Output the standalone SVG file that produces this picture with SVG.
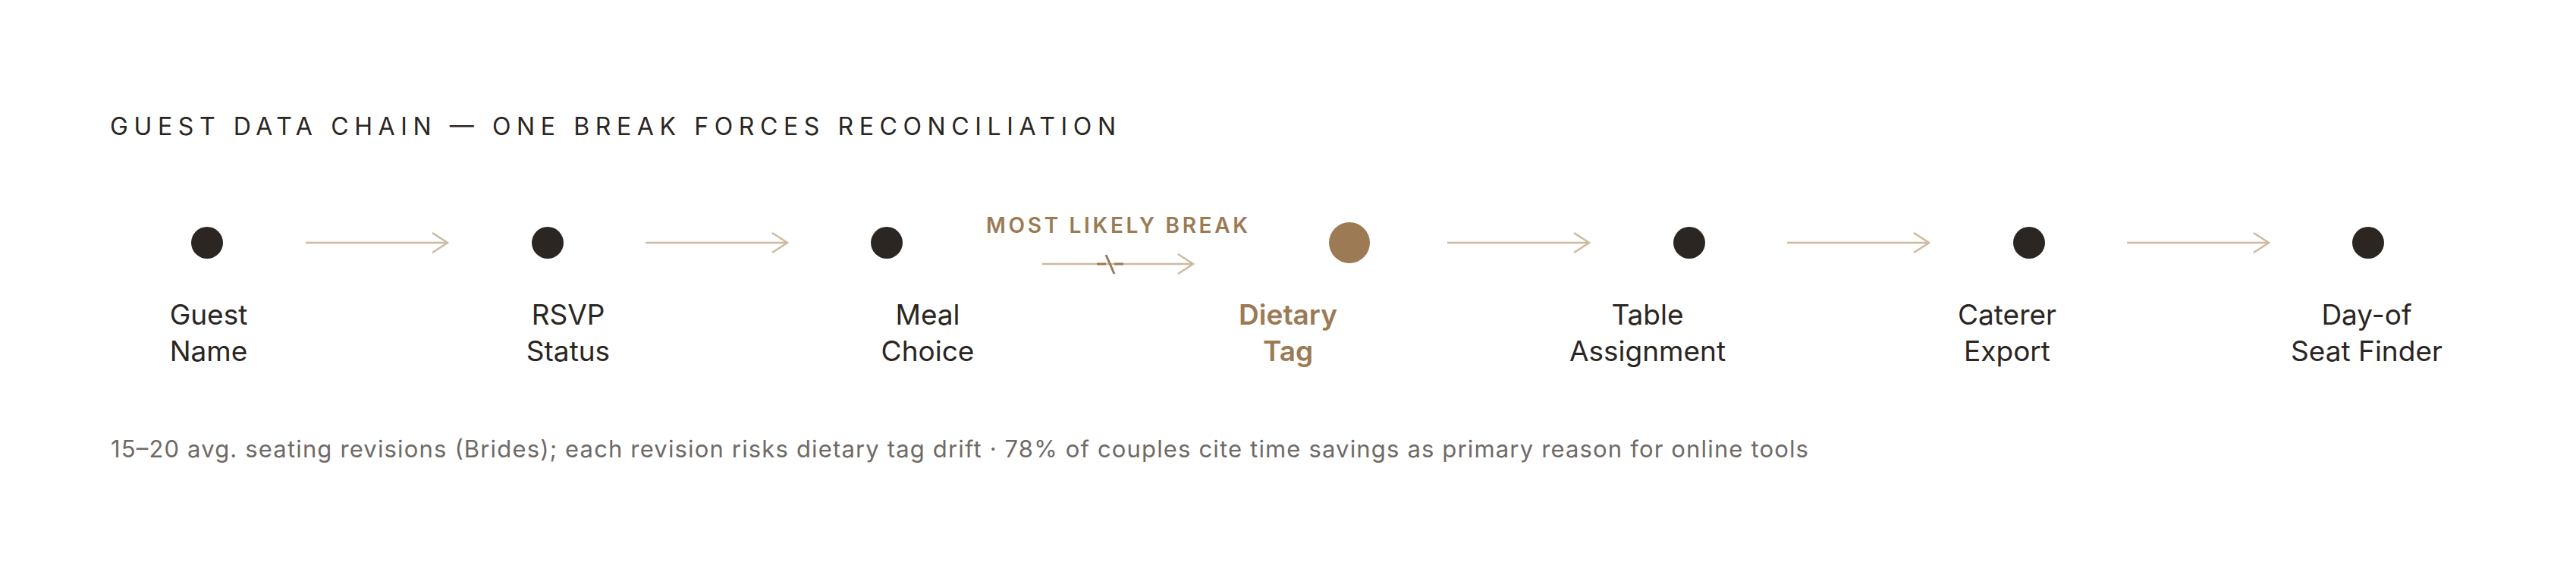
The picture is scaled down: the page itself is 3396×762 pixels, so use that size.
<svg xmlns="http://www.w3.org/2000/svg" width="3396" height="762" viewBox="0 0 3396 762">
<style>
.bg{fill:#ffffff}
.title{font-family:Inter,"Liberation Sans",sans-serif;font-size:32px;fill:#2b2622;font-weight:400}
.lbl{font-family:Inter,"Liberation Sans",sans-serif;font-size:37px;fill:#2b2622;text-anchor:middle}
.lblhi{font-family:Inter,"Liberation Sans",sans-serif;font-size:37px;fill:#9c7a53;font-weight:600;text-anchor:middle}
.brk{font-family:Inter,"Liberation Sans",sans-serif;font-size:28px;fill:#9c7a53;font-weight:600}
.foot{font-family:Inter,"Liberation Sans",sans-serif;font-size:31px;fill:#6f6a66}
.dot{fill:#2b2622}
.dothi{fill:#9c7a53}
.ln{stroke:#cdb9a0;stroke-width:2.5;fill:none}
.hd{stroke:#cdb9a0;stroke-width:2.5;fill:none;stroke-linecap:butt}
.bk{stroke:#9c7a53;stroke-width:3;fill:none}
</style>
<rect class="bg" width="3396" height="762"/>
<text class="title" x="145" y="178" textLength="1326" lengthAdjust="spacing">GUEST DATA CHAIN — ONE BREAK FORCES RECONCILIATION</text>

<g id="connectors">
<g id="c1"><line class="ln" x1="403" y1="320" x2="589" y2="320"/><path class="hd" d="M570,307 L590,320 L570,333"/></g>
<g id="c2"><line class="ln" x1="851" y1="320" x2="1037" y2="320"/><path class="hd" d="M1018,307 L1038,320 L1018,333"/></g>
<g id="c3">
<line class="ln" x1="1374" y1="348" x2="1572" y2="348"/>
<path class="hd" d="M1553,335 L1573,348 L1553,361"/>
<line class="bk" x1="1446" y1="348" x2="1458" y2="348"/>
<line class="bk" x1="1469" y1="348" x2="1481" y2="348"/>
<line class="bk" x1="1458" y1="336" x2="1469" y2="361"/>
</g>
<g id="c4"><line class="ln" x1="1908" y1="320" x2="2094" y2="320"/><path class="hd" d="M2075,307 L2095,320 L2075,333"/></g>
<g id="c5"><line class="ln" x1="2356" y1="320" x2="2542" y2="320"/><path class="hd" d="M2523,307 L2543,320 L2523,333"/></g>
<g id="c6"><line class="ln" x1="2804" y1="320" x2="2990" y2="320"/><path class="hd" d="M2971,307 L2991,320 L2971,333"/></g>
</g>

<text id="break-label" class="brk" x="1300" y="307" textLength="345" lengthAdjust="spacing">MOST LIKELY BREAK</text>

<g id="n1"><circle class="dot" cx="273" cy="320" r="21"/><text class="lbl" x="275" y="428">Guest</text><text class="lbl" x="275" y="476">Name</text></g>
<g id="n2"><circle class="dot" cx="722" cy="320" r="21"/><text class="lbl" x="749" y="428">RSVP</text><text class="lbl" x="749" y="476">Status</text></g>
<g id="n3"><circle class="dot" cx="1169" cy="320" r="21"/><text class="lbl" x="1223" y="428">Meal</text><text class="lbl" x="1223" y="476">Choice</text></g>
<g id="n4"><circle class="dothi" cx="1779" cy="320" r="27"/><text class="lblhi" x="1698" y="428">Dietary</text><text class="lblhi" x="1698" y="476">Tag</text></g>
<g id="n5"><circle class="dot" cx="2227" cy="320" r="21"/><text class="lbl" x="2172" y="428">Table</text><text class="lbl" x="2172" y="476">Assignment</text></g>
<g id="n6"><circle class="dot" cx="2675" cy="320" r="21"/><text class="lbl" x="2646" y="428">Caterer</text><text class="lbl" x="2646" y="476">Export</text></g>
<g id="n7"><circle class="dot" cx="3122" cy="320" r="21"/><text class="lbl" x="3120" y="428">Day-of</text><text class="lbl" x="3120" y="476">Seat Finder</text></g>

<text class="foot" x="146" y="603" textLength="2238" lengthAdjust="spacing">15–20 avg. seating revisions (Brides); each revision risks dietary tag drift · 78% of couples cite time savings as primary reason for online tools</text>
</svg>
